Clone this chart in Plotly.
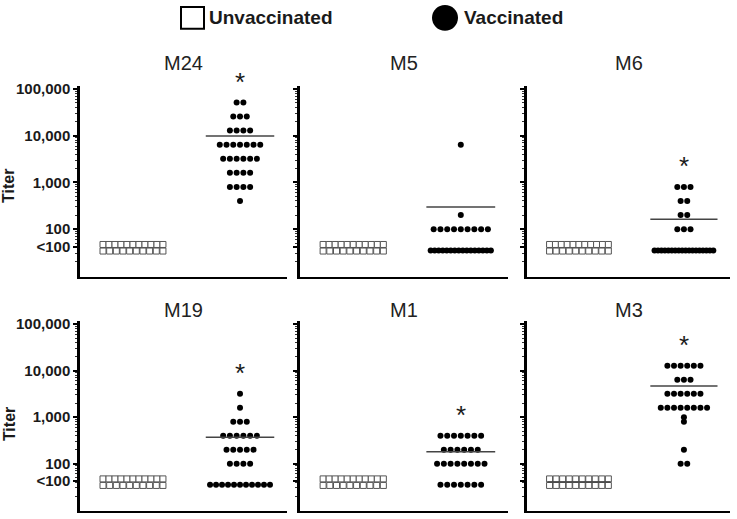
import numpy as np
import plotly.graph_objects as go

W, H = 737, 519

# ---------------- data ----------------
panels = ["M24", "M5", "M6", "M19", "M1", "M3"]

# vaccinated titers (value levels and number of animals at each level); 35 = "<100"
m24_titer = [51200, 25600, 12800, 6400, 3200, 1600, 800, 400]
m24_count = [2, 3, 4, 7, 6, 4, 4, 1]
m5_titer = [6400, 200, 100, 35]
m5_count = [1, 1, 9, 16]
m6_titer = [800, 400, 200, 100, 35]
m6_count = [3, 2, 2, 3, 18]
m19_titer = [3200, 1600, 800, 400, 200, 100, 35]
m19_count = [1, 1, 3, 6, 5, 4, 11]
m1_titer = [400, 200, 100, 35]
m1_count = [7, 6, 8, 7]
m3_titer = [12800, 6400, 3200, 1600, 1000, 800, 200, 100]
m3_count = [6, 3, 6, 8, 1, 1, 1, 2]

# unvaccinated (all "<100"), drawn as two stacked rows
unvacc_titer = [47, 34]
unvacc_counts = [[11, 10], [11, 10], [11, 10], [11, 10], [11, 10], [10, 10]]

significant = [True, False, True, True, True, True]
show_unvacc_mean = [False, False, False, False, False, True]

ytick_vals = [100000, 10000, 1000, 100, 42]
ytick_text = ["100,000", "10,000", "1,000", "100", "<100"]

vacc_titers = [m24_titer, m5_titer, m6_titer, m19_titer, m1_titer, m3_titer]
vacc_counts = [m24_count, m5_count, m6_count, m19_count, m1_count, m3_count]

# ---------------- layout geometry ----------------
YOFF = 4  # page renders slightly lower; compensate


def px_x(p):
    return p / W


def px_y(p):
    return 1 - (p - YOFF) / H


col_px = [(80, 287), (300, 508), (527, 730)]
row_px = [(85, 278), (323, 515)]
XR = [-0.495, 1.439]
YR = [0.98, 5.06]
SPACING = 0.063
MAXW = 0.56

FONT = "Liberation Sans"
INK = "#1a1a1a"

fig = go.Figure()
layout = dict(
    width=W, height=H, margin=dict(l=0, r=0, t=0, b=0),
    paper_bgcolor="white", plot_bgcolor="white", showlegend=False,
)

minor_vals = [m * 10 ** e for e in range(0, 6) for m in range(2, 10)]


def swarm(values, counts):
    xs, ys = [], []
    for v, n in zip(values, counts):
        if n == 0:
            continue
        sp = SPACING if n <= 1 else min(SPACING, MAXW / (n - 1))
        off = (np.arange(n) - (n - 1) / 2) * sp
        xs.extend(list(off))
        ys.extend([v] * n)
    return np.array(xs), np.array(ys)


annotations = []
shapes = []

for i, name in enumerate(panels):
    r, c = divmod(i, 3)
    k = "" if i == 0 else str(i + 1)
    xa, ya = "x" + k, "y" + k
    x0, x1 = col_px[c]
    yt, yb = row_px[r]
    layout["xaxis" + k] = dict(
        domain=[px_x(x0), px_x(x1)], range=XR, anchor=ya,
        showline=True, linecolor="black", linewidth=2,
        showticklabels=False, ticks="", showgrid=False, zeroline=False,
        fixedrange=True,
    )
    layout["yaxis" + k] = dict(
        domain=[px_y(yb), px_y(yt)], type="log", range=YR, anchor=xa,
        showline=True, linecolor="black", linewidth=2.5,
        tickvals=ytick_vals, ticktext=ytick_text,
        showticklabels=(c == 0), ticks="outside", ticklen=4, tickwidth=1.5,
        tickcolor="black", showgrid=False, zeroline=False, fixedrange=True,
        tickfont=dict(family=FONT, size=15, color=INK, weight="bold"),
        minor=dict(tickvals=minor_vals, ticks="outside", ticklen=2,
                   tickwidth=1, tickcolor="#333"),
    )

    # unvaccinated squares
    ux, uy = swarm(unvacc_titer, unvacc_counts[i])
    fig.add_trace(go.Scatter(
        x=ux + 0, y=uy, mode="markers", xaxis=xa, yaxis=ya,
        marker=dict(symbol="square", size=6, color="white",
                    line=dict(color="#555", width=1)),
        cliponaxis=False, name="Unvaccinated"))

    # vaccinated dots
    vx, vy = swarm(vacc_titers[i], vacc_counts[i])
    fig.add_trace(go.Scatter(
        x=vx + 1, y=vy, mode="markers", xaxis=xa, yaxis=ya,
        marker=dict(symbol="circle", size=6, color="black"),
        cliponaxis=False, name="Vaccinated"))

    # mean lines (arithmetic mean)
    vmean = float(np.mean(vy))
    fig.add_trace(go.Scatter(
        x=[1 - 0.32, 1 + 0.32], y=[vmean, vmean], mode="lines",
        xaxis=xa, yaxis=ya, line=dict(color="#444", width=1.5),
        hoverinfo="skip"))
    if show_unvacc_mean[i]:
        umean = float(np.mean(uy))
        fig.add_trace(go.Scatter(
            x=[0 - 0.3, 0 + 0.3], y=[umean, umean], mode="lines",
            xaxis=xa, yaxis=ya, line=dict(color="#444", width=1.5),
            hoverinfo="skip"))

    # significance asterisk above the highest vaccinated titer
    if significant[i]:
        top = max(v for v, n in zip(vacc_titers[i], vacc_counts[i]) if n > 0)
        yfrac = (np.log10(top) + 0.55 - YR[0]) / (YR[1] - YR[0])
        annotations.append(dict(
            x=1, y=yfrac, xref=xa, yref=ya + " domain", text="*",
            showarrow=False, yanchor="middle", yshift=-5,
            font=dict(family=FONT, size=26, color=INK)))

    # panel title
    annotations.append(dict(
        x=px_x((x0 + x1) / 2), y=px_y(62 if r == 0 else 312),
        xref="paper", yref="paper", text=name, showarrow=False,
        xanchor="center", yanchor="middle",
        font=dict(family=FONT, size=20, color="#222")))

    if c == 0:
        annotations.append(dict(
            x=px_x(9), y=px_y(186 if r == 0 else 427), xref="paper", yref="paper",
            text="Titer", textangle=-90, showarrow=False,
            xanchor="center", yanchor="middle",
            font=dict(family=FONT, size=16, color=INK, weight="bold")))

# legend
shapes.append(dict(type="rect", xref="paper", yref="paper",
                   x0=px_x(181), x1=px_x(204), y0=px_y(27), y1=px_y(5),
                   line=dict(color="black", width=2), fillcolor="white"))
shapes.append(dict(type="circle", xref="paper", yref="paper",
                   x0=px_x(432), x1=px_x(458), y0=px_y(29), y1=px_y(3),
                   line=dict(color="black", width=0), fillcolor="black"))
annotations.append(dict(x=px_x(207), y=px_y(16), xref="paper", yref="paper",
                        text="Unvaccinated", showarrow=False, xanchor="left",
                        yanchor="middle",
                        font=dict(family=FONT, size=19, color=INK, weight="bold")))
annotations.append(dict(x=px_x(462), y=px_y(16), xref="paper", yref="paper",
                        text="Vaccinated", showarrow=False, xanchor="left",
                        yanchor="middle",
                        font=dict(family=FONT, size=19, color=INK, weight="bold")))

layout["annotations"] = annotations
layout["shapes"] = shapes
fig.update_layout(**layout)
fig.write_html(
    "out.html",
    config={"displayModeBar": False},
    post_script="document.body.style.margin='0px';document.body.style.padding='0px';",
)
